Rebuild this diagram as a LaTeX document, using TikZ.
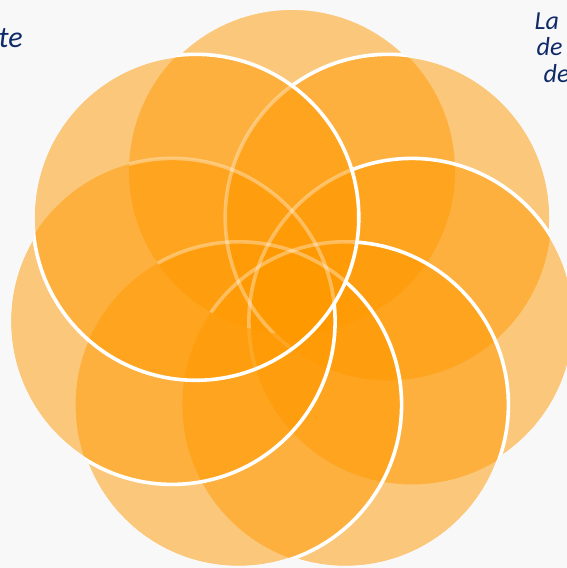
\documentclass[tikz,border=0pt]{standalone}
\usepackage{fontspec}
\setmainfont{Carlito}
\definecolor{bg}{HTML}{F8F8F8}
\definecolor{orng}{HTML}{FF9900}
\definecolor{navy}{RGB}{16,42,105}
\tikzset{
  petal/.style={fill=orng, fill opacity=0.5},
  rimbright/.style={draw=white, line width=3.6pt},
  rimfaded/.style={draw=white, line width=3.6pt, draw opacity=0.35},
  rimfaint/.style={draw=white, line width=3.6pt, draw opacity=0.12},
  rimhide/.style={draw=bg, line width=3.8pt},
  lbl/.style={text=navy, inner sep=0pt, anchor=base west},
}
\newcommand\cutaway[1]{\clip (#1) circle[radius=163] (-50,-50) rectangle (620,620);}
\newcommand\fadedrim[1]{\begin{scope}\clip (cT) circle[radius=163];\clip (cUL) circle[radius=163];\draw[rimfaded] (#1) circle[radius=163];\end{scope}}
\newcommand\faintrim[1]{\begin{scope}[even odd rule]\clip (cUL) circle[radius=163];\cutaway{cT}\draw[rimfaint] (#1) circle[radius=163];\end{scope}}
\begin{document}
\begin{tikzpicture}[x=1pt,y=-1pt]
\path[fill=bg] (0,0) rectangle (567,568);
\useasboundingbox (0,0) rectangle (567,568);
\coordinate (cT)  at (292,171);
\coordinate (cUR) at (388.2,217.3);
\coordinate (cR)  at (411.9,321.4);
\coordinate (cLR) at (345.4,404.8);
\coordinate (cLL) at (238.6,404.8);
\coordinate (cL)  at (172.1,321.4);
\coordinate (cUL) at (195.8,217.3);
% fills
\foreach \c in {cT,cUR,cR,cLR,cLL,cL,cUL}{\path[petal] (\c) circle[radius=163];}
% bright rims, each hidden where a later circle lies over it
\begin{scope}[even odd rule]\cutaway{cR}\cutaway{cLR}\cutaway{cLL}\cutaway{cL}\cutaway{cUL}\draw[rimbright] (cUR) circle[radius=163];\end{scope}
\begin{scope}[even odd rule]\cutaway{cLR}\cutaway{cLL}\cutaway{cL}\cutaway{cUL}\draw[rimbright] (cR) circle[radius=163];\end{scope}
\begin{scope}[even odd rule]\cutaway{cLL}\cutaway{cL}\cutaway{cUL}\draw[rimbright] (cLR) circle[radius=163];\end{scope}
\begin{scope}[even odd rule]\cutaway{cL}\cutaway{cUL}\draw[rimbright] (cLL) circle[radius=163];\end{scope}
\begin{scope}[even odd rule]\cutaway{cUL}\draw[rimbright] (cL) circle[radius=163];\end{scope}
% faded rims seen through the top and upper-left circles
\fadedrim{cUR}\fadedrim{cR}\fadedrim{cLR}\fadedrim{cLL}\fadedrim{cL}
\faintrim{cR}\faintrim{cUR}
\draw[rimbright] (cUL) circle[radius=163];
% outer edge: the white rim is lost against the background
\begin{scope}[even odd rule]\cutaway{cUR}\cutaway{cR}\cutaway{cLR}\cutaway{cLL}\cutaway{cL}\cutaway{cUL}\draw[rimhide] (cT) circle[radius=163];\end{scope}
\begin{scope}[even odd rule]\cutaway{cT}\cutaway{cR}\cutaway{cLR}\cutaway{cLL}\cutaway{cL}\cutaway{cUL}\draw[rimhide] (cUR) circle[radius=163];\end{scope}
\begin{scope}[even odd rule]\cutaway{cT}\cutaway{cUR}\cutaway{cLR}\cutaway{cLL}\cutaway{cL}\cutaway{cUL}\draw[rimhide] (cR) circle[radius=163];\end{scope}
\begin{scope}[even odd rule]\cutaway{cT}\cutaway{cUR}\cutaway{cR}\cutaway{cLL}\cutaway{cL}\cutaway{cUL}\draw[rimhide] (cLR) circle[radius=163];\end{scope}
\begin{scope}[even odd rule]\cutaway{cT}\cutaway{cUR}\cutaway{cR}\cutaway{cLR}\cutaway{cL}\cutaway{cUL}\draw[rimhide] (cLL) circle[radius=163];\end{scope}
\begin{scope}[even odd rule]\cutaway{cT}\cutaway{cUR}\cutaway{cR}\cutaway{cLR}\cutaway{cLL}\cutaway{cUL}\draw[rimhide] (cL) circle[radius=163];\end{scope}
\begin{scope}[even odd rule]\cutaway{cT}\cutaway{cUR}\cutaway{cR}\cutaway{cLR}\cutaway{cLL}\cutaway{cL}\draw[rimhide] (cUL) circle[radius=163];\end{scope}
% texts
\node[lbl, font=\itshape\fontsize{30}{33}\selectfont] (te) at (-1.5,47) {te};
\node[lbl, font=\itshape\fontsize{26}{29}\selectfont] (la) at (534.5,29) {La};
\node[lbl, font=\itshape\fontsize{26}{29}\selectfont] (de1) at (536.5,55.5) {de};
\node[lbl, font=\itshape\fontsize{26}{29}\selectfont] (de2) at (543.5,82) {de};
\end{tikzpicture}
\end{document}
